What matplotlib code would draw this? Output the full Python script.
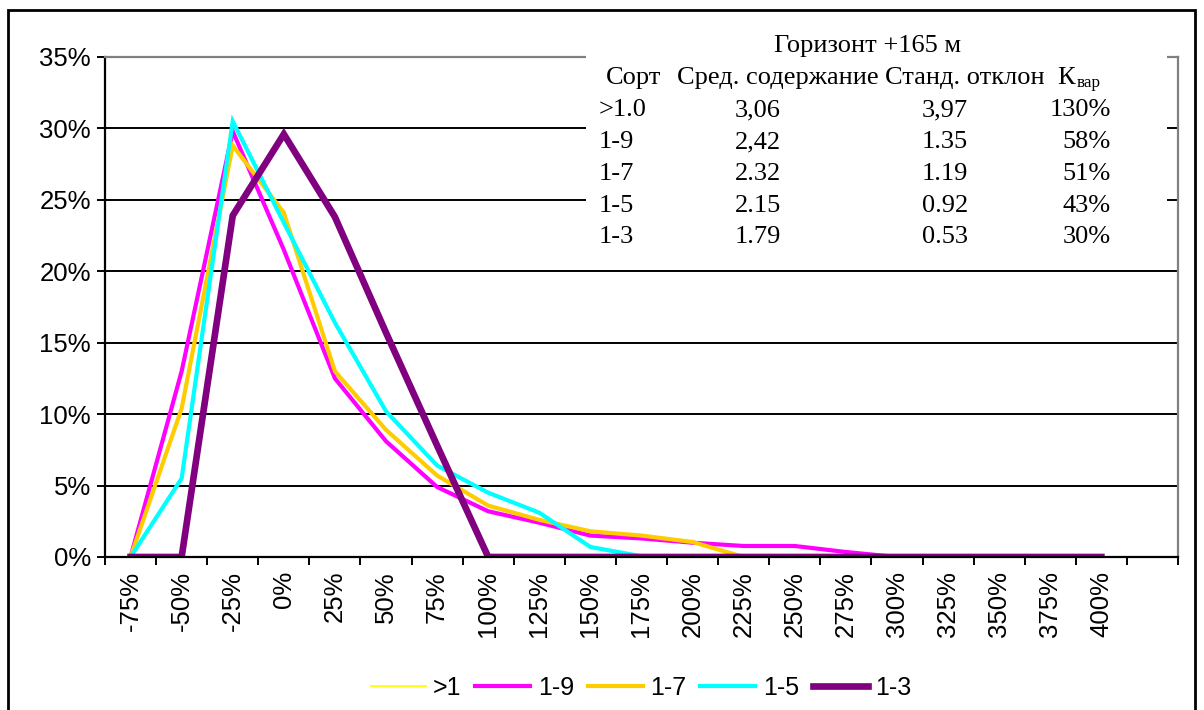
import numpy as np
import matplotlib
matplotlib.use("Agg")
import matplotlib.pyplot as plt
from matplotlib.patches import Rectangle
from matplotlib.ticker import FixedLocator, PercentFormatter

cats = ["-75%", "-50%", "-25%", "0%", "25%", "50%", "75%", "100%", "125%", "150%",
	"175%", "200%", "225%", "250%", "275%", "300%", "325%", "350%", "375%", "400%"]

s_gt1 = [0, 13.0, 29.8, 21.5, 12.5, 8.1, 4.9, 3.2, 2.4, 1.5, 1.3, 1.0, 0.77, 0.77, 0.35, 0, 0, 0, 0, 0]
s_19 = [0, 13.0, 29.8, 21.5, 12.5, 8.1, 4.9, 3.2, 2.4, 1.5, 1.3, 1.0, 0.77, 0.77, 0.35, 0, 0, 0, 0, 0]
s_17 = [0, 10.4, 28.8, 24.1, 13.0, 8.9, 5.7, 3.6, 2.6, 1.8, 1.5, 1.05, 0, 0, 0, 0, 0, 0, 0, 0]
s_15 = [0, 5.5, 30.5, 23.4, 16.4, 10.2, 6.4, 4.5, 3.1, 0.7, 0.05, 0, 0, 0, 0, 0, 0, 0, 0, 0]
s_13 = [0, 0, 23.9, 29.6, 23.8, 15.7, 7.8, 0, 0, 0, 0, 0, 0, 0, 0, 0, 0, 0, 0, 0]

series = [(">1", s_gt1, "#FFFF00", 1.3),
	("1-9", s_19, "#FF00FF", 3.0),
	("1-7", s_17, "#FFCC00", 3.0),
	("1-5", s_15, "#00FFFF", 3.0),
	("1-3", s_13, "#800080", 4.8)]

# table in the corner
tbl_title = "Горизонт +165 м"
tbl_head = ["Сорт", "Сред. содержание", "Станд. отклон"]
tbl_sort = [">1.0", "1-9", "1-7", "1-5", "1-3"]
tbl_mean = ["3,06", "2,42", "2.32", "2.15", "1.79"]
tbl_std = ["3,97", "1.35", "1.19", "0.92", "0.53"]
tbl_kvar = ["130%", "58%", "51%", "43%", "30%"]

W, H = 1204, 710
fig = plt.figure(figsize=(W / 100, H / 100), dpi=100)
fig.patch.set_facecolor("white")

def fx(x):
	return x / W

def fy(y):
	return 1 - y / H

ax = fig.add_axes([fx(105), fy(557), fx(1178) - fx(105), fy(57) - fy(557)])

x = np.arange(len(cats))
for name, vals, col, lw in series:
	ax.plot(x, vals, color=col, lw=lw, label=name, solid_joinstyle="miter", zorder=2)

ax.set_xlim(-0.5, len(cats) + 0.5)
ax.set_ylim(0, 35)

ax.yaxis.set_major_locator(FixedLocator(np.arange(0, 36, 5)))
ax.yaxis.set_major_formatter(PercentFormatter(decimals=0))
ax.grid(axis="y", color="black", lw=1.4)
ax.set_axisbelow(True)

ax.xaxis.set_major_locator(FixedLocator(np.arange(-0.5, len(cats) + 1, 1)))
ax.xaxis.set_major_formatter(plt.NullFormatter())
ax.set_xticks(x, minor=True)
ax.set_xticklabels(cats, minor=True, rotation=90)
ax.tick_params(axis="x", which="minor", length=0, pad=10)
ax.tick_params(axis="x", which="major", length=6, width=1.4, direction="out")
ax.tick_params(axis="y", length=6, width=1.4, direction="out", pad=4)
for lab in ax.get_xticklabels(minor=True) + ax.get_yticklabels():
	lab.set_fontfamily("Liberation Sans")
	lab.set_fontsize(18.5)

for side in ["left", "bottom"]:
	ax.spines[side].set_color("black")
	ax.spines[side].set_linewidth(1.6)
for side in ["top", "right"]:
	ax.spines[side].set_color("#808080")
	ax.spines[side].set_linewidth(1.6)

# white box holding the table
box = Rectangle((fx(586), fy(255)), fx(1167) - fx(586), fy(30) - fy(255),
	transform=fig.transFigure, facecolor="white", edgecolor="none", zorder=1)
fig.patches.append(box)

serif = "Liberation Serif"
fs = 19
def ttext(px, py, s, ha="left", size=fs):
	fig.text(fx(px), fy(py), s, family=serif, size=size, ha=ha, va="center", zorder=7)

ttext(868, 46, tbl_title, ha="center")
row_y = [78, 110, 142, 174, 206, 237]
ttext(606, row_y[0], tbl_head[0])
ttext(677, row_y[0], tbl_head[1])
ttext(885, row_y[0], tbl_head[2])
ttext(1057, row_y[0], "К")
ttext(1077, row_y[0] + 5, "вар", size=fs * 0.65)
for i in range(len(tbl_sort)):
	ttext(599, row_y[i + 1], tbl_sort[i])
	ttext(758, row_y[i + 1], tbl_mean[i], ha="center")
	ttext(945, row_y[i + 1], tbl_std[i], ha="center")
	ttext(1111, row_y[i + 1], tbl_kvar[i], ha="right")

leg = fig.legend(*ax.get_legend_handles_labels(), loc="center", ncol=5,
	bbox_to_anchor=(fx(641), fy(688)), frameon=False, handlelength=2.2,
	handletextpad=0.3, columnspacing=0.55, prop={"family": "Liberation Sans", "size": 18})

# outer chart border
frame = Rectangle((fx(8), fy(720)), fx(1195) - fx(8), fy(10) - fy(720),
	transform=fig.transFigure, facecolor="none", edgecolor="black", lw=2, zorder=6)
fig.patches.append(frame)

fig.savefig("out.png", dpi=100)
